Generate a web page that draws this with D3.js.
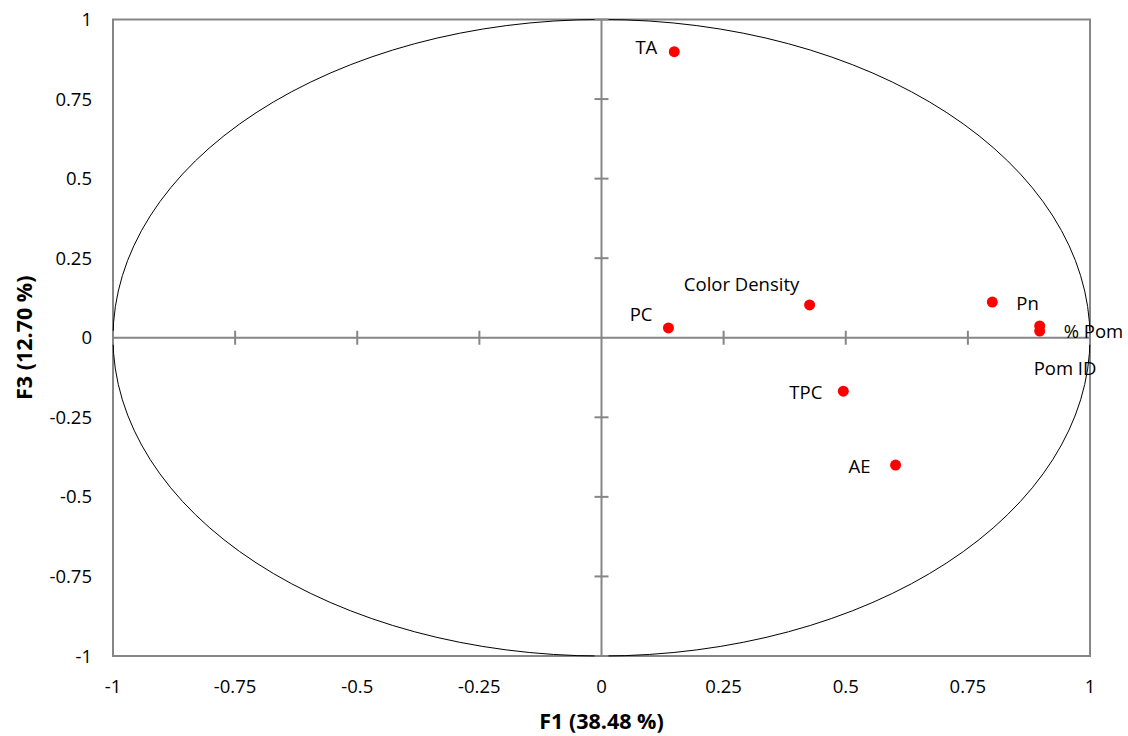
<!DOCTYPE html>
<html>
<head>
<meta charset="UTF-8"/>
<script src="https://d3js.org/d3.v7.min.js"></script>
<style>
body { margin: 0; background: #fff; }
text { font-family: "Open Sans", "Liberation Sans", sans-serif; fill: #000; }
</style>
</head>
<body>
<svg id='big' width=1128 height=736></svg>
<script>
'use strict';

// variables (F1, F3 loadings)
var names = ['TA', 'Color Density', 'PC', 'Pn', '% Pom', 'Pom ID', 'TPC', 'AE'];
var f1 = [0.149, 0.426, 0.137, 0.800, 0.897, 0.897, 0.495, 0.602];
var f3 = [0.899, 0.103, 0.031, 0.112, 0.037, 0.021, -0.168, -0.400];

var ticks = [-1, -0.75, -0.5, -0.25, 0, 0.25, 0.5, 0.75, 1];
var xTitle = 'F1 (38.48 %)';
var yTitle = 'F3 (12.70 %)';

// where each label sits relative to its point
var labelPos = {
	'TA': [-17, 2, 'end'],
	'Color Density': [-68, -14, 'middle'],
	'PC': [-16, -7, 'end'],
	'Pn': [24, 8, 'start'],
	'% Pom': [24, 12, 'start'],
	'Pom ID': [-6, 44, 'start'],
	'TPC': [-21, 8, 'end'],
	'AE': [-25, 8, 'end']
};

var svg = d3.select('#big');
var sx = d3.scaleLinear().domain([-1, 1]).range([113, 1090]);
var sy = d3.scaleLinear().domain([-1, 1]).range([656, 19.5]);
var grey = '#868686';

// frame
svg.append('rect')
	.attr('x', sx(-1)).attr('y', sy(1))
	.attr('width', sx(1) - sx(-1)).attr('height', sy(-1) - sy(1))
	.attr('fill', 'none').attr('stroke', grey).attr('stroke-width', 2);

// correlation circle
svg.append('ellipse')
	.attr('cx', sx(0)).attr('cy', sy(0))
	.attr('rx', sx(1) - sx(0)).attr('ry', sy(-1) - sy(0))
	.attr('fill', 'none').attr('stroke', '#000').attr('stroke-width', 1);

// zero axes
svg.append('line')
	.attr('x1', sx(-1)).attr('x2', sx(1))
	.attr('y1', sy(0)).attr('y2', sy(0))
	.attr('stroke', grey).attr('stroke-width', 2);
svg.append('line')
	.attr('x1', sx(0)).attr('x2', sx(0))
	.attr('y1', sy(-1)).attr('y2', sy(1))
	.attr('stroke', grey).attr('stroke-width', 2);

// tick marks crossing the zero axes
svg.selectAll('.xtick')
	.data(ticks.filter(function(d){ return d != 0; }))
	.enter().append('line')
	.attr('class', 'xtick')
	.attr('x1', function(d){ return sx(d); })
	.attr('x2', function(d){ return sx(d); })
	.attr('y1', sy(0) - 7).attr('y2', sy(0) + 7)
	.attr('stroke', grey).attr('stroke-width', 2);
svg.selectAll('.ytick')
	.data(ticks.filter(function(d){ return d != 0; }))
	.enter().append('line')
	.attr('class', 'ytick')
	.attr('y1', function(d){ return sy(d); })
	.attr('y2', function(d){ return sy(d); })
	.attr('x1', sx(0) - 7).attr('x2', sx(0) + 7)
	.attr('stroke', grey).attr('stroke-width', 2);

// tick labels
svg.selectAll('.xlab')
	.data(ticks)
	.enter().append('text')
	.attr('class', 'xlab')
	.attr('x', function(d){ return sx(d); })
	.attr('y', 693)
	.attr('text-anchor', 'middle')
	.attr('font-size', 18.5)
	.text(function(d){ return d; });
svg.selectAll('.ylab')
	.data(ticks)
	.enter().append('text')
	.attr('class', 'ylab')
	.attr('x', 92)
	.attr('y', function(d){ return sy(d) + 6.5; })
	.attr('text-anchor', 'end')
	.attr('font-size', 18.5)
	.text(function(d){ return d; });

// axis titles
svg.append('text')
	.attr('x', sx(0)).attr('y', 729)
	.attr('text-anchor', 'middle')
	.attr('font-size', 21.5).attr('font-weight', 'bold')
	.text(xTitle);
svg.append('text')
	.attr('transform', 'translate(32,' + sy(0) + ') rotate(-90)')
	.attr('text-anchor', 'middle')
	.attr('font-size', 21.5).attr('font-weight', 'bold')
	.text(yTitle);

// points and labels
var pts = names.map(function(n, i){ return {name: n, x: f1[i], y: f3[i]}; });

svg.selectAll('.pt')
	.data(pts)
	.enter().append('circle')
	.attr('class', 'pt')
	.attr('cx', function(d){ return sx(d.x); })
	.attr('cy', function(d){ return sy(d.y); })
	.attr('r', 5.5)
	.attr('fill', '#ff0000');

svg.selectAll('.ptlab')
	.data(pts)
	.enter().append('text')
	.attr('class', 'ptlab')
	.attr('x', function(d){ return sx(d.x) + labelPos[d.name][0]; })
	.attr('y', function(d){ return sy(d.y) + labelPos[d.name][1]; })
	.attr('text-anchor', function(d){ return labelPos[d.name][2]; })
	.attr('font-size', 18.5)
	.text(function(d){ return d.name; });
</script>
</body>
</html>
